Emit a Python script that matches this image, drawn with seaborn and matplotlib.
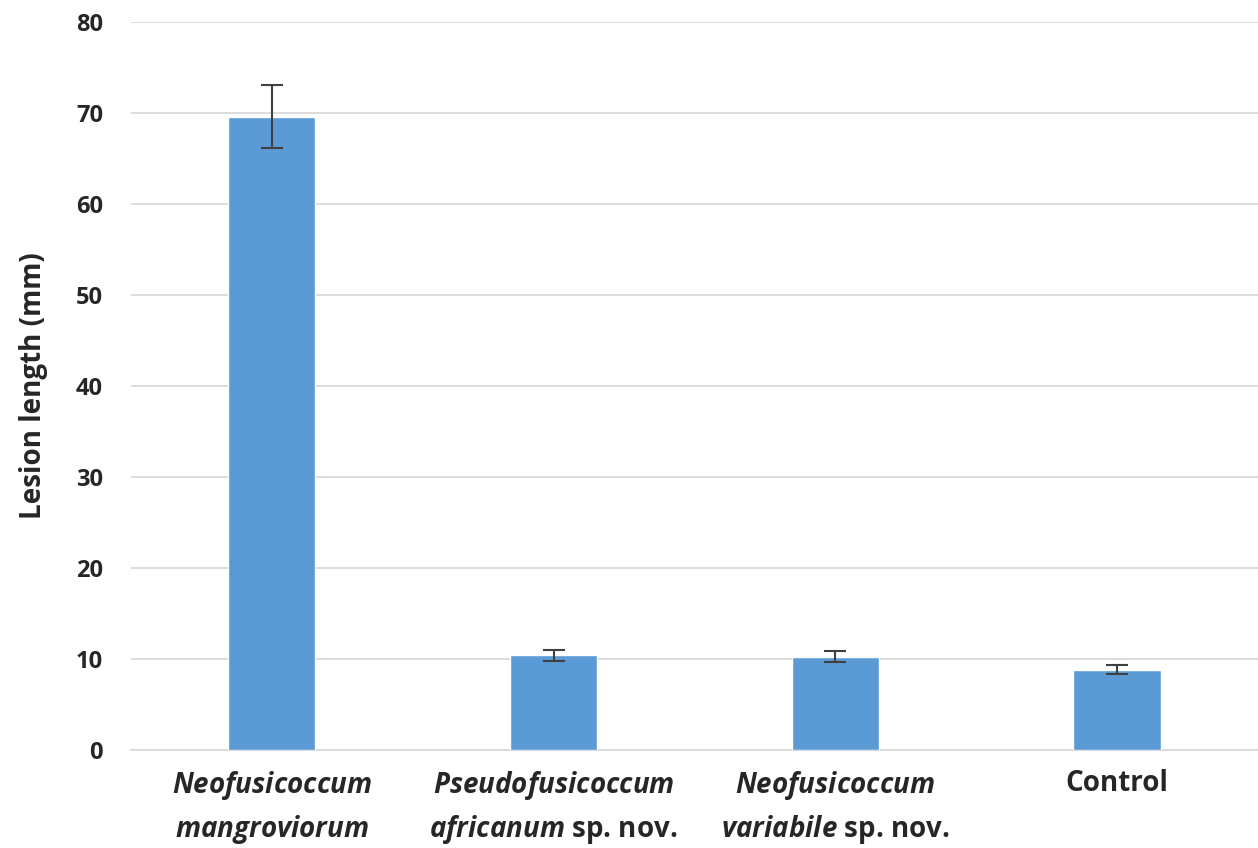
import numpy as np
import pandas as pd
import matplotlib
matplotlib.use("Agg")
import matplotlib.pyplot as plt
import seaborn as sns

# Data
species = ["N. mangroviorum", "P. africanum", "N. variabile", "Control"]
tick_labels = [
    "$\\it{Neofusicoccum}$\n$\\it{mangroviorum}$",
    "$\\it{Pseudofusicoccum}$\n$\\it{africanum}$ sp. nov.",
    "$\\it{Neofusicoccum}$\n$\\it{variabile}$ sp. nov.",
    "Control",
]
lesion_mm = [69.6, 10.4, 10.2, 8.8]
lesion_err = [3.5, 0.6, 0.6, 0.5]

sns.set_theme(style="white")
plt.rcParams["font.family"] = ["Open Sans", "DejaVu Sans"]
plt.rcParams["mathtext.fontset"] = "custom"
plt.rcParams["mathtext.it"] = "Open Sans:italic:bold"
plt.rcParams["mathtext.rm"] = "Open Sans:bold"
plt.rcParams["mathtext.bf"] = "Open Sans:bold"

df = pd.DataFrame({"species": species, "lesion": lesion_mm})

fig = plt.figure(figsize=(12.58, 8.48), dpi=100)
ax = fig.add_axes([0.104, 0.116, 0.896, 0.858])

sns.barplot(data=df, x="species", y="lesion", color="#5B9BD5", saturation=1,
            width=0.31, ax=ax, zorder=3)
ax.errorbar(np.arange(len(species)), lesion_mm, yerr=lesion_err, fmt="none",
            ecolor="#404040", elinewidth=1.5, capsize=8, capthick=1.5, zorder=4)

ax.set_ylim(0, 80)
ax.set_xlim(-0.5, 3.5)
ax.set_yticks(range(0, 81, 10))
ax.yaxis.grid(True, color="#d9d9d9", linewidth=1.3, zorder=0)
ax.set_axisbelow(True)
for s in ["top", "right", "left"]:
    ax.spines[s].set_visible(False)
ax.spines["bottom"].set_color("#d9d9d9")
ax.spines["bottom"].set_linewidth(1.3)

ax.set_xticks(range(len(species)))
ax.set_xticklabels(tick_labels, fontsize=20, fontweight="bold", va="top",
                   linespacing=1.45)
ax.tick_params(axis="x", length=0, pad=14)
ax.tick_params(axis="y", length=0, pad=20, labelsize=17)
for t in ax.get_yticklabels():
    t.set_fontweight("bold")
ax.set_xlabel("")
ax.set_ylabel("Lesion length (mm)", fontsize=20, fontweight="bold", labelpad=20)

fig.savefig("out.png", dpi=100)
